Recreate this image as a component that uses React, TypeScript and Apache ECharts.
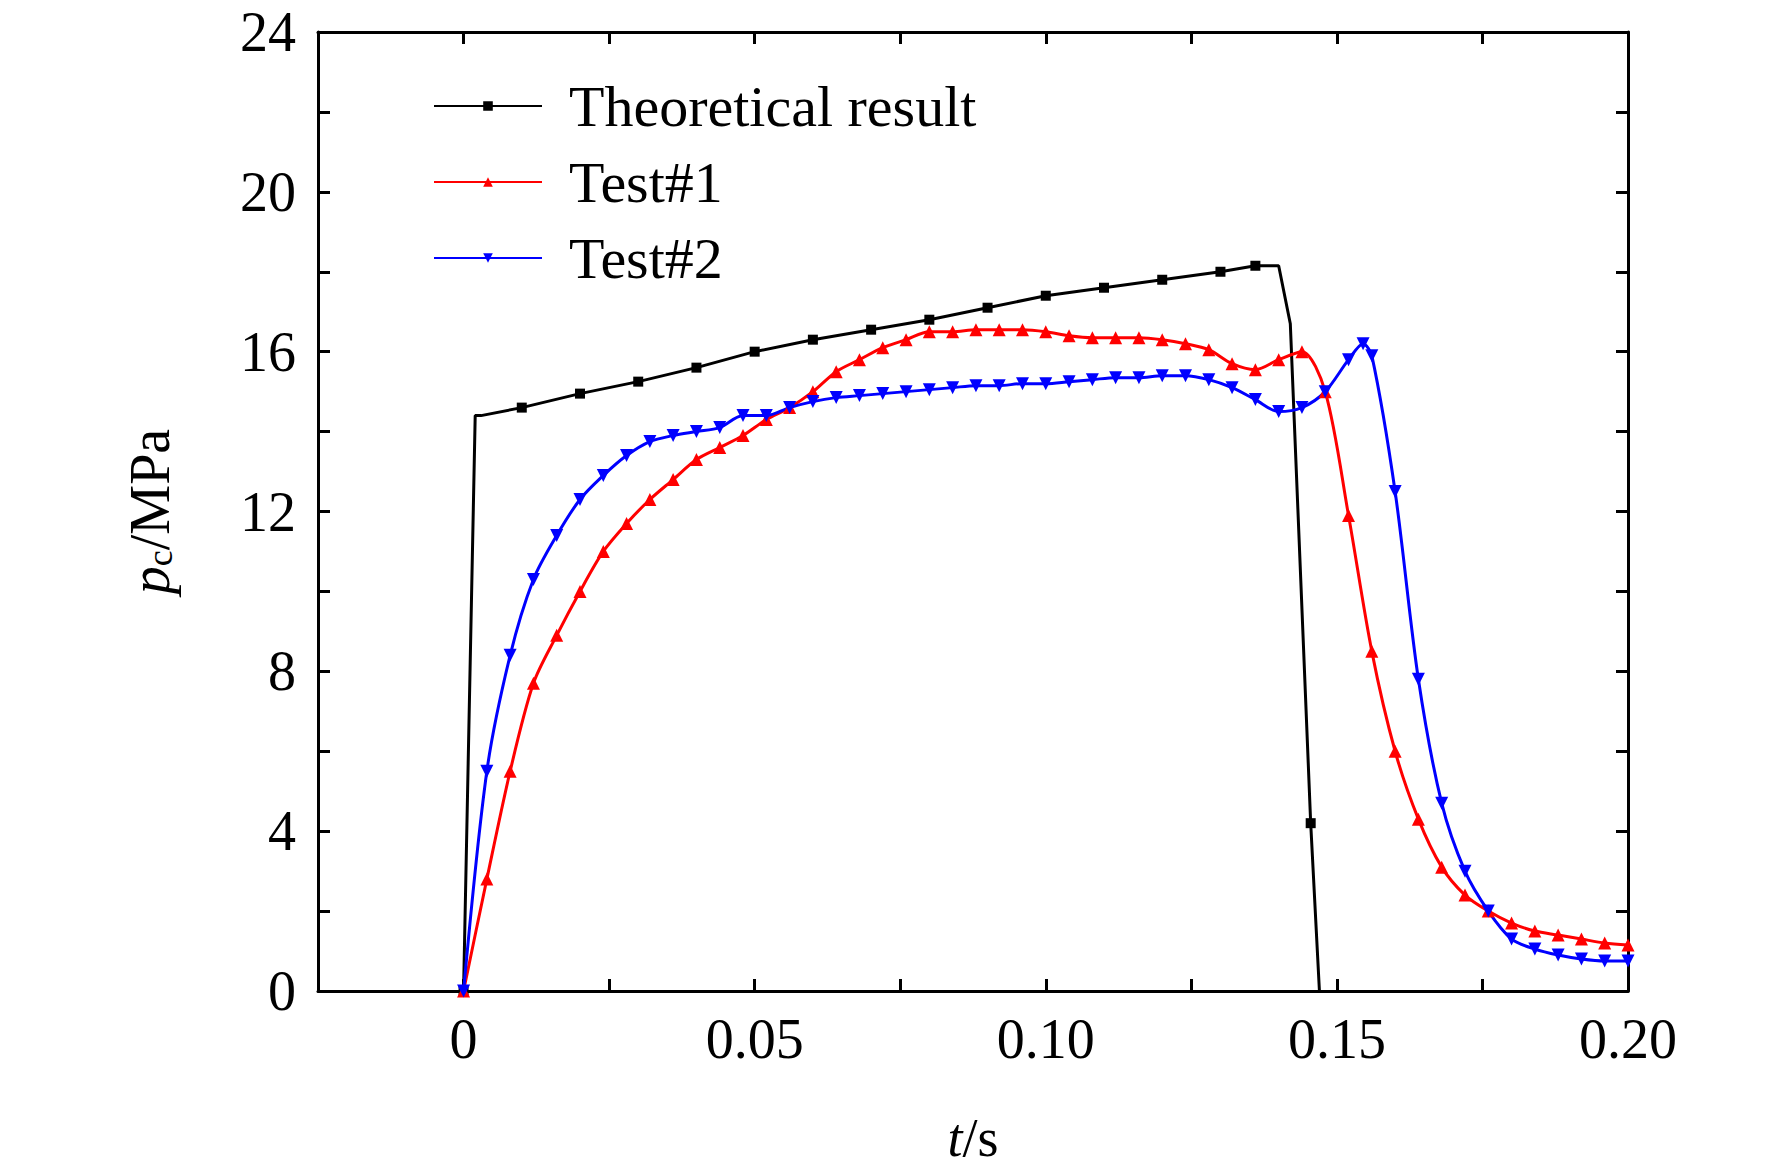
import React from "react";
import * as echarts from "echarts";

const theoryX = [0, 0.002, 0.003, 0.01, 0.02, 0.03, 0.04, 0.05, 0.06, 0.07, 0.08, 0.09, 0.1, 0.11, 0.12, 0.13, 0.136, 0.14, 0.142, 0.1455, 0.147];
const theoryY = [0, 14.4, 14.4, 14.6, 14.95, 15.25, 15.6, 16.0, 16.3, 16.55, 16.8, 17.1, 17.4, 17.6, 17.8, 18.0, 18.15, 18.15, 16.7, 4.2, 0];
const theoryMarked = [true, false, false, true, true, true, true, true, true, true, true, true, true, true, true, true, true, false, false, true, false];

const test1X = [0, 0.004, 0.008, 0.012, 0.016, 0.02, 0.024, 0.028, 0.032, 0.036, 0.04, 0.044, 0.048, 0.052, 0.056, 0.06, 0.064, 0.068, 0.072, 0.076, 0.08, 0.084, 0.088, 0.092, 0.096, 0.1, 0.104, 0.108, 0.112, 0.116, 0.12, 0.124, 0.128, 0.132, 0.136, 0.14, 0.144, 0.148, 0.152, 0.156, 0.16, 0.164, 0.168, 0.172, 0.176, 0.18, 0.184, 0.188, 0.192, 0.196, 0.2];
const test1Y = [0, 2.8, 5.5, 7.7, 8.9, 10.0, 11.0, 11.7, 12.3, 12.8, 13.3, 13.6, 13.9, 14.3, 14.6, 15.0, 15.5, 15.8, 16.1, 16.3, 16.5, 16.5, 16.55, 16.55, 16.55, 16.5, 16.4, 16.35, 16.35, 16.35, 16.3, 16.2, 16.05, 15.7, 15.55, 15.8, 16.0, 15.0, 11.9, 8.5, 6.0, 4.3, 3.1, 2.4, 2.0, 1.7, 1.5, 1.4, 1.3, 1.2, 1.15];

const test2X = [0, 0.004, 0.008, 0.012, 0.016, 0.02, 0.024, 0.028, 0.032, 0.036, 0.04, 0.044, 0.048, 0.052, 0.056, 0.06, 0.064, 0.068, 0.072, 0.076, 0.08, 0.084, 0.088, 0.092, 0.096, 0.1, 0.104, 0.108, 0.112, 0.116, 0.12, 0.124, 0.128, 0.132, 0.136, 0.14, 0.144, 0.148, 0.152, 0.1545, 0.156, 0.16, 0.164, 0.168, 0.172, 0.176, 0.18, 0.184, 0.188, 0.192, 0.196, 0.2];
const test2Y = [0, 5.5, 8.4, 10.3, 11.4, 12.3, 12.9, 13.4, 13.75, 13.9, 14.0, 14.1, 14.4, 14.4, 14.6, 14.75, 14.85, 14.9, 14.95, 15.0, 15.05, 15.1, 15.15, 15.15, 15.2, 15.2, 15.25, 15.3, 15.35, 15.35, 15.4, 15.4, 15.3, 15.1, 14.8, 14.5, 14.6, 15.0, 15.8, 16.2, 15.9, 12.5, 7.8, 4.7, 3.0, 2.0, 1.3, 1.05, 0.9, 0.8, 0.75, 0.75];

const FONT = "Liberation Serif";

const App: React.FC = () => {
  const ref = React.useRef<HTMLDivElement>(null);

  React.useEffect(() => {
    document.body.style.margin = "0";
    if (!ref.current) return;
    const chart = echarts.init(ref.current, undefined, { renderer: "svg" });

    const xLabel = (v: number) => {
      const r = Math.round(v * 1000);
      if (r < 0 || r % 50 !== 0) return "";
      return r === 0 ? "0" : v.toFixed(2);
    };
    const axisBase = {
      axisLine: { show: true, onZero: false, lineStyle: { color: "#000", width: 3 } },
      axisTick: { show: true, inside: true, length: 12, lineStyle: { color: "#000", width: 3 } },
      splitLine: { show: false },
    };

    const option = {
      animation: false,
      backgroundColor: "#fff",
      grid: { left: 318, right: 144, top: 32, bottom: 175 },
      legend: {
        orient: "vertical",
        left: 428,
        top: 72,
        itemWidth: 108,
        itemHeight: 12,
        itemGap: 18,
        textStyle: { fontFamily: FONT, fontSize: 58, color: "#000", padding: [0, 0, 0, 22] },
        data: ["Theoretical result", "Test#1", "Test#2"],
      },
      xAxis: [
        {
          ...axisBase,
          type: "value",
          min: -0.025,
          max: 0.2,
          interval: 0.025,
          name: "{i|t}/s",
          nameLocation: "middle",
          nameGap: 120,
          nameTextStyle: {
            fontFamily: FONT, fontSize: 54, color: "#000",
            rich: { i: { fontFamily: FONT, fontSize: 54, fontStyle: "italic", color: "#000" } },
          },
          axisLabel: { formatter: xLabel, fontFamily: FONT, fontSize: 56, color: "#000", margin: 20 },
        },
        {
          ...axisBase,
          type: "value",
          position: "top",
          min: -0.025,
          max: 0.2,
          interval: 0.025,
          axisLabel: { show: false },
        },
      ],
      yAxis: [
        {
          ...axisBase,
          type: "value",
          min: 0,
          max: 24,
          interval: 2,
          name: "{i|p}{s|c}/MPa",
          nameLocation: "middle",
          nameRotate: 90,
          nameGap: 140,
          nameTextStyle: {
            fontFamily: FONT, fontSize: 56, color: "#000",
            rich: {
              i: { fontFamily: FONT, fontSize: 56, fontStyle: "italic", color: "#000" },
              s: { fontFamily: FONT, fontSize: 36, color: "#000", verticalAlign: "bottom", padding: [16, 0, 0, 0] },
            },
          },
          axisLabel: {
            formatter: (v: number) => (v % 4 === 0 ? String(v) : ""),
            fontFamily: FONT, fontSize: 56, color: "#000", margin: 22,
          },
        },
        {
          ...axisBase,
          type: "value",
          position: "right",
          min: 0,
          max: 24,
          interval: 2,
          axisLabel: { show: false },
        },
      ],
      series: [
        {
          name: "Theoretical result",
          type: "line",
          color: "#000",
          symbol: "rect",
          symbolSize: 10,
          lineStyle: { width: 3 },
          data: theoryX.map((x, i) => ({
            value: [x, theoryY[i]],
            symbol: theoryMarked[i] ? "rect" : "none",
          })),
        },
        {
          name: "Test#1",
          type: "line",
          color: "#ff0000",
          symbol: "triangle",
          symbolSize: 13,
          smooth: 0.3,
          lineStyle: { width: 3 },
          data: test1X.map((x, i) => [x, test1Y[i]]),
        },
        {
          name: "Test#2",
          type: "line",
          color: "#0000ff",
          symbol: "triangle",
          symbolRotate: 180,
          symbolSize: 13,
          smooth: 0.3,
          lineStyle: { width: 3 },
          data: test2X.map((x, i) => [x, test2Y[i]]),
        },
      ],
    };

    chart.setOption(option as any);
    return () => chart.dispose();
  }, []);

  return <div ref={ref} style={{ width: 1772, height: 1170 }} />;
};

export default App;
